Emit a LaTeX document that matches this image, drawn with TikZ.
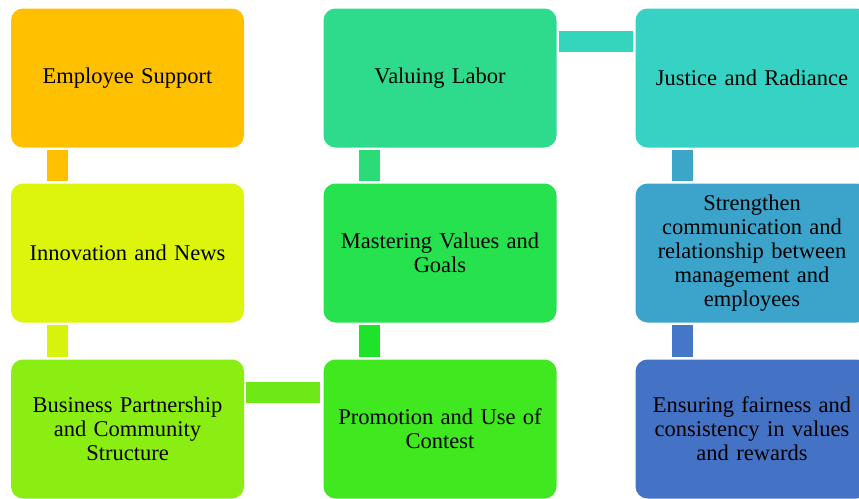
\documentclass[tikz,border=0pt]{standalone}
\usepackage{fontspec}
\setmainfont{Liberation Serif}[WordSpace=1.3]
\usetikzlibrary{positioning}

\definecolor{cSup}{HTML}{FFC000}
\definecolor{cInnov}{HTML}{DCF50A}
\definecolor{cPartner}{HTML}{8BEE13}
\definecolor{cPromo}{HTML}{3FE81F}
\definecolor{cMaster}{HTML}{25E24E}
\definecolor{cLabor}{HTML}{2EDB8C}
\definecolor{cJustice}{HTML}{36D3C5}
\definecolor{cComm}{HTML}{3CA3CB}
\definecolor{cFair}{HTML}{4472C4}
% bars between the boxes
\definecolor{bInnov}{HTML}{D6F20D}
\definecolor{bPartner}{HTML}{6EE817}
\definecolor{bPromo}{HTML}{1FE32B}
\definecolor{bMaster}{HTML}{2ADB77}
\definecolor{bLabor}{HTML}{35D4BD}
\definecolor{bJustice}{HTML}{3CA6C9}
\definecolor{bComm}{HTML}{4577C8}

\begin{document}
\begin{tikzpicture}[x=0.5pt,y=-0.5pt,
                    stage/.style={rectangle,rounded corners=6pt,fill=#1,
                                  minimum width=116.5pt,minimum height=69.5pt,
                                  align=center,inner sep=0pt,
                                  font=\fontsize{11.25}{12}\selectfont},
                    bar/.style={line width=10.5pt,draw=#1}]

  \clip (0,0) rectangle (859,499);

  % first column
  \node[stage=cSup]     (sup)     at (127.5,78)  {Employee Support};
  \node[stage=cInnov]   (innov)   at (127.5,253) {Innovation and News};
  \node[stage=cPartner] (partner) at (127.5,429) {Business Partnership\\and Community\\Structure};

  % second column
  \node[stage=cPromo]   (promo)   at (440,429)   {Promotion and Use of\\Contest};
  \node[stage=cMaster]  (master)  at (440,253)   {Mastering Values and\\Goals};
  \node[stage=cLabor]   (labor)   at (440,78)    {Valuing Labor};

  % third column (runs past the right edge)
  \node[stage=cJustice] (justice) at (752,78)    {Justice and Radiance};
  \node[stage=cComm]    (comm)    at (752,253)   {Strengthen\\communication and\\relationship between\\management and\\employees};
  \node[stage=cFair]    (fair)    at (752,429)   {Ensuring fairness and\\consistency in values\\and rewards};

  % vertical bars
  \draw[bar=cSup]     ([xshift=23.25pt,yshift=-1pt]sup.south west)    -- ([xshift=23.25pt,yshift=1pt]innov.north west);
  \draw[bar=bInnov]   ([xshift=23.25pt,yshift=-1pt]innov.south west)  -- ([xshift=23.25pt,yshift=1pt]partner.north west);
  \draw[bar=bPromo]   ([xshift=23.25pt,yshift=1pt]promo.north west)   -- ([xshift=23.25pt,yshift=-1pt]master.south west);
  \draw[bar=bMaster]  ([xshift=23.25pt,yshift=1pt]master.north west)  -- ([xshift=23.25pt,yshift=-1pt]labor.south west);
  \draw[bar=bJustice] ([xshift=23.5pt,yshift=-1pt]justice.south west) -- ([xshift=23.5pt,yshift=1pt]comm.north west);
  \draw[bar=bComm]    ([xshift=23.5pt,yshift=-1pt]comm.south west)    -- ([xshift=23.5pt,yshift=1pt]fair.north west);

  % horizontal bars
  \draw[bar=bPartner] ([xshift=1pt,yshift=-16.75pt]partner.north east) -- ([xshift=-1.5pt,yshift=-16.75pt]promo.north west);
  \draw[bar=bLabor]   ([xshift=1pt,yshift=-16.5pt]labor.north east)    -- ([xshift=-1pt,yshift=-16.5pt]justice.north west);
\end{tikzpicture}
\end{document}
